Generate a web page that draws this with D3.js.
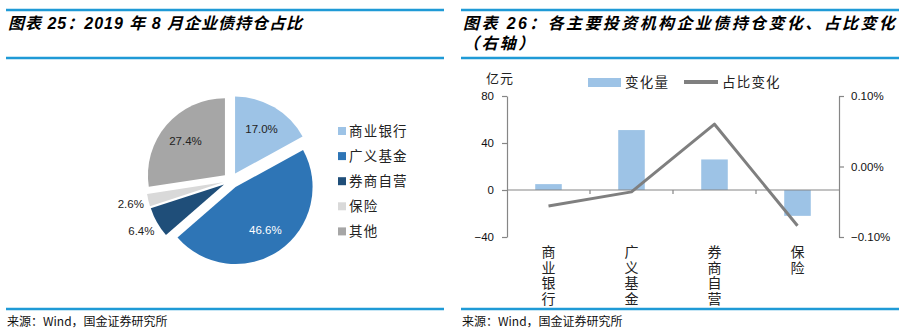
<!DOCTYPE html>
<html>
<head>
<meta charset="utf-8">
<script src="https://cdn.jsdelivr.net/npm/d3@7/dist/d3.min.js"></script>
<style>
  html, body { margin: 0; padding: 0; background: #fff; }
  svg { display: block; }
  text { font-family: "Liberation Sans", Arial, "Noto Sans CJK SC", sans-serif; }
</style>
</head>
<body>
<svg id="chart" width="906" height="335"></svg>
<script>
// ---- Pie: holdings share, Aug 2019 ----
const pieCategories = ["商业银行", "广义基金", "券商自营", "保险", "其他"];
const pieValues = [17.0, 46.6, 6.4, 2.6, 27.4];
const pieColors = ["#9dc3e6", "#2e75b6", "#1f4e79", "#d9d9d9", "#a6a6a6"];

// ---- Bar + line: change by investor type ----
const barCategories = ["商业银行", "广义基金", "券商自营", "保险"];
const changeAmount = [5, 51, 26, -22];            // 亿元
const shareChange = [-0.00056, -0.00036, 0.00060, -0.00084]; // right axis
const leftTicks = [80, 40, 0, -40];
const rightTicks = [0.001, 0, -0.001];

const svg = d3.select("#chart");
const rule = "#1f9ad6";
const cjk = "\"Noto Sans CJK SC\", \"Liberation Sans\", sans-serif";

// frame rules and headings
function panel(x0, x1, titleLines) {
  [10, 58, 309].forEach(yy => {
    svg.append("line").attr("x1", x0).attr("x2", x1).attr("y1", yy).attr("y2", yy)
      .attr("stroke", rule).attr("stroke-width", 2.5);
  });
  titleLines.forEach((t, i) => {
    svg.append("text").attr("x", x0 + 2).attr("y", 29 + i * 20)
      .attr("font-size", 16).attr("font-weight", "bold").attr("font-style", "italic")
      .attr("letter-spacing", t.ls).attr("fill", "#000")
      .text(t.s);
  });
  svg.append("text").attr("x", x0 + 1).attr("y", 326)
    .attr("font-size", 12).style("font-family", cjk).attr("fill", "#111")
    .text("来源：Wind，国金证券研究所");
}
panel(6, 444, [{ s: "图表 25：2019 年 8 月企业债持仓占比", ls: 1 }]);
panel(461, 899, [{ s: "图表 26：各主要投资机构企业债持仓变化、占比变化", ls: 2.4 },
                 { s: "（右轴）", ls: 2.4 }]);

// ---- pie ----
const cx = 231, cy = 180.5, R = 77, explode = 8;
const pie = d3.pie().sort(null).value(d => d.v);
const arcs = pie(pieValues.map((v, i) => ({ v, name: pieCategories[i], color: pieColors[i] })));
const arc = d3.arc().innerRadius(0).outerRadius(R);
const gPie = svg.append("g").attr("transform", `translate(${cx},${cy})`);

function dir(a) {
  const m = (a.startAngle + a.endAngle) / 2;
  return [Math.sin(m), -Math.cos(m)];
}
gPie.selectAll("path").data(arcs).join("path")
  .attr("d", arc)
  .attr("fill", d => d.data.color)
  .attr("transform", d => { const [dx, dy] = dir(d); return `translate(${dx * explode},${dy * explode})`; });

// small slices get their labels outside the pie
const labelR = d => d.data.v < 8 ? 103 : 60;
gPie.selectAll("text.lbl").data(arcs).join("text")
  .attr("class", "lbl")
  .attr("font-size", 11.5)
  .attr("text-anchor", "middle")
  .attr("dy", "0.35em")
  .attr("fill", d => d.data.name === "广义基金" ? "#fff" : "#222")
  .attr("x", d => dir(d)[0] * labelR(d))
  .attr("y", d => dir(d)[1] * labelR(d))
  .text(d => d3.format(".1f")(d.data.v) + "%");

// pie legend
const legend = svg.append("g").attr("transform", "translate(338,131)");
pieCategories.forEach((name, i) => {
  const g = legend.append("g").attr("transform", `translate(0,${i * 25.1})`);
  g.append("rect").attr("x", 0).attr("y", -4).attr("width", 8).attr("height", 8).attr("fill", pieColors[i]);
  g.append("text").attr("x", 11).attr("y", 0).attr("dy", "0.36em")
    .attr("font-size", 13.5).attr("letter-spacing", 1.2).style("font-family", cjk).attr("fill", "#222")
    .text(name);
});

// ---- bar + line chart ----
const x = d3.scaleBand().domain(barCategories).range([507, 839]).padding(0);
const y = d3.scaleLinear().domain([-40, 80]).range([237, 96]);
const yR = d3.scaleLinear().domain([-0.001, 0.001]).range([237, 96]);
const axisColor = "#868686";
const barW = x.bandwidth() * 0.32;

svg.append("g").selectAll("rect").data(barCategories).join("rect")
  .attr("x", d => x(d) + (x.bandwidth() - barW) / 2)
  .attr("width", barW)
  .attr("y", (d, i) => y(Math.max(0, changeAmount[i])))
  .attr("height", (d, i) => Math.abs(y(changeAmount[i]) - y(0)))
  .attr("fill", "#9dc3e6");

// left axis
const axL = svg.append("g").attr("transform", "translate(507,0)")
  .call(d3.axisLeft(y).tickValues(leftTicks).tickSize(5).tickPadding(8).tickSizeOuter(0).tickFormat(d3.format("d")));
// right axis
const axR = svg.append("g").attr("transform", "translate(839,0)")
  .call(d3.axisRight(yR).tickValues(rightTicks).tickSize(5).tickPadding(7).tickSizeOuter(0).tickFormat(d3.format(".2%")));
[axL, axR].forEach(a => {
  a.select(".domain").attr("stroke", axisColor).attr("stroke-width", 1.2);
  a.selectAll(".tick line").attr("stroke", axisColor).attr("stroke-width", 1.2);
  a.selectAll(".tick text").attr("font-size", 11.5).attr("fill", "#111")
    .style("font-family", "\"Liberation Sans\", Arial, sans-serif");
});

// category axis at zero
const gX = svg.append("g");
gX.append("line").attr("x1", 507).attr("x2", 839).attr("y1", y(0)).attr("y2", y(0))
  .attr("stroke", axisColor).attr("stroke-width", 1.2);
gX.selectAll("line.tk").data(barCategories.slice(1)).join("line")
  .attr("class", "tk")
  .attr("x1", d => x(d)).attr("x2", d => x(d))
  .attr("y1", y(0)).attr("y2", y(0) + 4)
  .attr("stroke", axisColor).attr("stroke-width", 1.2);

// vertical category labels, one column of characters per category
svg.append("g").selectAll("text").data(barCategories).join("text")
  .attr("x", d => x(d) + x.bandwidth() / 2)
  .attr("y", 245)
  .attr("writing-mode", "vertical-rl")
  .attr("font-size", 14)
  .attr("letter-spacing", 1.5)
  .style("font-family", cjk)
  .attr("fill", "#222")
  .text(d => d);

// share change line
const line = d3.line().x((d, i) => x(barCategories[i]) + x.bandwidth() / 2).y(d => yR(d));
svg.append("path").datum(shareChange).attr("d", line)
  .attr("fill", "none").attr("stroke", "#7f7f7f").attr("stroke-width", 3).attr("stroke-linejoin", "round");

// unit + legend
svg.append("text").attr("x", 486).attr("y", 78).attr("dy", "0.36em")
  .attr("font-size", 13).style("font-family", cjk).attr("letter-spacing", 1).attr("fill", "#222").text("亿元");
const lg = svg.append("g");
lg.append("rect").attr("x", 588).attr("y", 78).attr("width", 33).attr("height", 9).attr("fill", "#9dc3e6");
lg.append("text").attr("x", 625).attr("y", 82).attr("dy", "0.36em").attr("font-size", 13.5)
  .attr("letter-spacing", 1.2).style("font-family", cjk).attr("fill", "#222").text("变化量");
lg.append("line").attr("x1", 684).attr("x2", 718).attr("y1", 82).attr("y2", 82)
  .attr("stroke", "#7f7f7f").attr("stroke-width", 4);
lg.append("text").attr("x", 722).attr("y", 82).attr("dy", "0.36em").attr("font-size", 13.5)
  .attr("letter-spacing", 1.2).style("font-family", cjk).attr("fill", "#222").text("占比变化");
</script>
</body>
</html>
